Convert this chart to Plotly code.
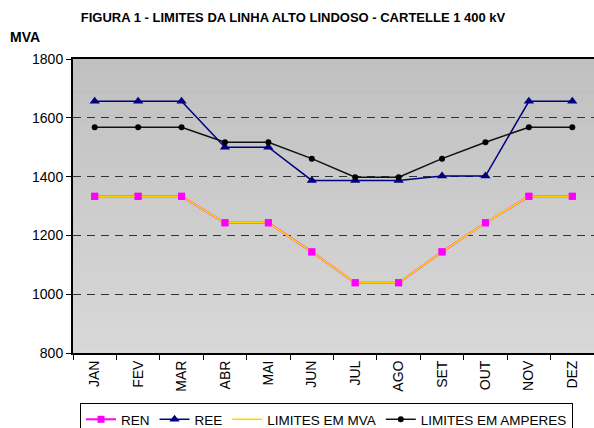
import plotly.graph_objects as go

months = ["JAN", "FEV", "MAR", "ABR", "MAI", "JUN", "JUL", "AGO", "SET", "OUT", "NOV", "DEZ"]
ren = [1333, 1333, 1333, 1243, 1243, 1144, 1039, 1039, 1144, 1243, 1333, 1333]
ree = [1656, 1656, 1656, 1500, 1500, 1387, 1387, 1387, 1402, 1402, 1656, 1656]
lim_mva = [1333, 1333, 1333, 1243, 1243, 1144, 1039, 1039, 1144, 1243, 1333, 1333]
lim_amp = [1568, 1568, 1568, 1517, 1517, 1461, 1398, 1398, 1461, 1517, 1568, 1568]
y_ticks = [800, 1000, 1200, 1400, 1600, 1800]

FONT = "Liberation Sans, Arial, sans-serif"

fig = go.Figure()
fig.add_trace(go.Scatter(x=months, y=ren, name="REN", mode="lines+markers",
                         line=dict(color="#FF00FF", width=2),
                         marker=dict(symbol="square", size=7, color="#FF00FF")))
fig.add_trace(go.Scatter(x=months, y=ree, name="REE", mode="lines+markers",
                         line=dict(color="#000080", width=1.5),
                         marker=dict(symbol="triangle-up", size=9, color="#000080")))
fig.add_trace(go.Scatter(x=months, y=lim_mva, name="LIMITES EM MVA", mode="lines",
                         line=dict(color="#FFD700", width=1.6)))
fig.add_trace(go.Scatter(x=months, y=lim_amp, name="LIMITES EM AMPERES", mode="lines+markers",
                         line=dict(color="#111111", width=1.5),
                         marker=dict(symbol="circle", size=6, color="#000000")))
fig.add_trace(go.Scatter(x=months, y=ren, mode="markers", showlegend=False, hoverinfo="skip",
                         marker=dict(symbol="square", size=7, color="#FF00FF")))

shapes = []
n = 40
top = (192, 192, 192)
bot = (216, 216, 216)
for i in range(n):
    t = i / (n - 1)
    c = tuple(int(round(top[k] + (bot[k] - top[k]) * t)) for k in range(3))
    shapes.append(dict(type="rect", xref="x domain", yref="y domain",
                       x0=0, x1=1, y0=1 - (i + 1) / n, y1=1 - i / n,
                       fillcolor="rgb(%d,%d,%d)" % c, line=dict(width=0), layer="below"))

pw, ph = 594 - 73, 428 - 59 - 75

fig.update_layout(
    width=594, height=428,
    margin=dict(l=73, r=0, t=59, b=75, autoexpand=False),
    paper_bgcolor="white",
    plot_bgcolor="#d0d0d0",
    shapes=shapes,
    font=dict(family=FONT, size=14, color="black"),
    title=dict(text="<b>FIGURA 1 - LIMITES DA LINHA ALTO LINDOSO - CARTELLE 1 400 kV</b>",
               x=293 / 594, xref="container", xanchor="center",
               y=1 - 17 / 428, yref="container", yanchor="middle",
               font=dict(family=FONT, size=13, color="black")),
    annotations=[dict(text="<b>MVA</b>", x=(8 - 73) / pw, y=(428 - 75 - 37) / ph,
                      xref="paper", yref="paper",
                      showarrow=False, font=dict(family=FONT, size=14),
                      xanchor="left", yanchor="middle")],
    showlegend=True,
    legend=dict(orientation="h", x=80 / 594, y=1 - 403 / 428, xref="container", yref="container",
                xanchor="left", yanchor="top",
                bordercolor="black", borderwidth=1, bgcolor="white",
                font=dict(family=FONT, size=13.5), itemwidth=30, tracegroupgap=0),
)

fig.update_xaxes(type="category", range=[-0.5, 11.5], tickangle=-90,
                 showline=True, linecolor="black", linewidth=2, mirror=True,
                 ticks="outside", tickson="boundaries", ticklen=5, tickcolor="black",
                 showgrid=False, automargin=False, tickfont=dict(family=FONT, size=14))
fig.update_yaxes(range=[800, 1800], tickvals=y_ticks,
                 showline=True, linecolor="black", linewidth=2, mirror=True,
                 ticks="outside", ticklen=5, tickcolor="black",
                 showgrid=True, gridcolor="#333333", griddash="8px,6px", gridwidth=1,
                 zeroline=False, automargin=False, tickfont=dict(family=FONT, size=14))

fig.write_html("out.html", config={"displayModeBar": False},
               post_script="document.body.style.margin='0';document.body.style.overflow='hidden';")
